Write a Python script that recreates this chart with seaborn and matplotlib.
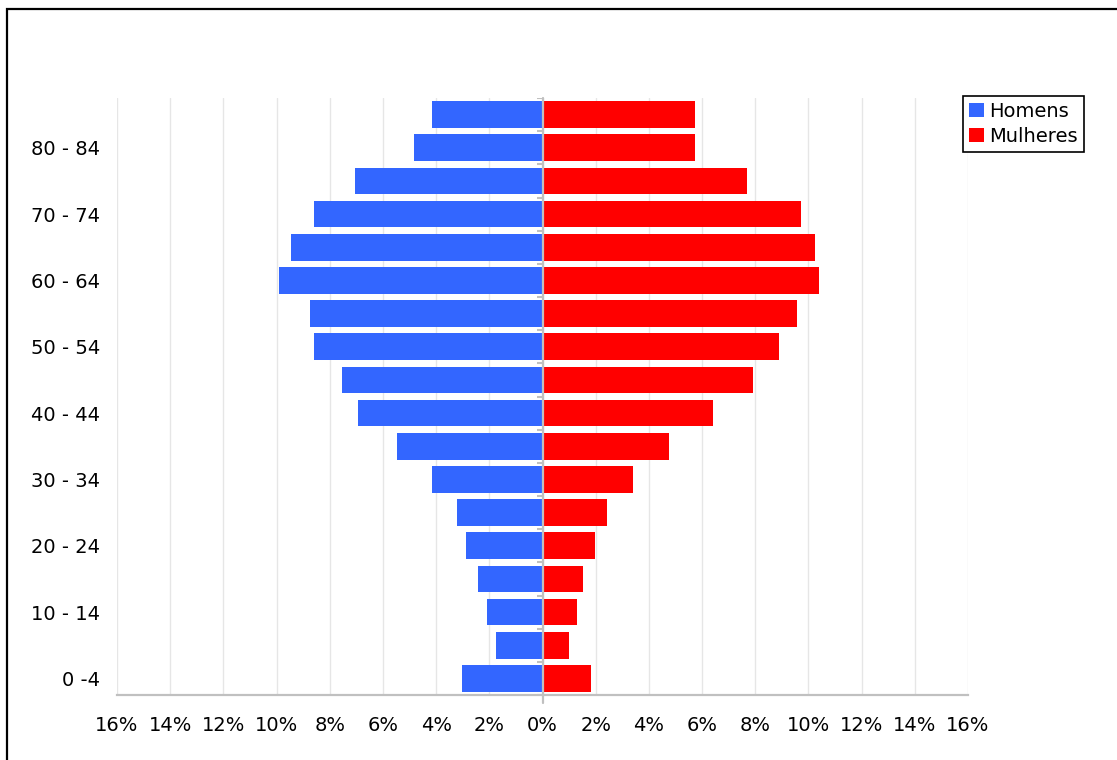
import numpy as np
import pandas as pd
import matplotlib
matplotlib.use("Agg")
import matplotlib.pyplot as plt
from matplotlib.patches import Rectangle
from matplotlib.ticker import FuncFormatter
import seaborn as sns

# -------------------- data (top of pyramid first) --------------------
faixas = ["85+", "80 - 84", "75 - 79", "70 - 74", "65 - 69", "60 - 64", "55 - 59",
          "50 - 54", "45 - 49", "40 - 44", "35 - 39", "30 - 34", "25 - 29",
          "20 - 24", "15 - 19", "10 - 14", "5 - 9", "0 -4"]
homens = [4.17, 4.85, 7.06, 8.61, 9.47, 9.92, 8.76, 8.61, 7.55, 6.92,
          5.48, 4.17, 3.20, 2.89, 2.41, 2.07, 1.76, 3.01]
mulheres = [5.73, 5.73, 7.68, 9.71, 10.24, 10.39, 9.56, 8.88, 7.91, 6.40,
            4.75, 3.39, 2.42, 1.97, 1.52, 1.29, 0.99, 1.82]
x_ticks = list(range(-16, 17, 2))

df = pd.DataFrame({
    "faixa": faixas * 2,
    "pct": [-v for v in homens] + mulheres,
    "sexo": ["Homens"] * len(faixas) + ["Mulheres"] * len(faixas),
})

# -------------------- plot --------------------
sns.set_style("white")
plt.rcParams["font.family"] = ["DejaVu Sans"]
plt.rcParams["text.color"] = "black"
plt.rcParams["xtick.labelcolor"] = "black"
plt.rcParams["ytick.labelcolor"] = "black"

fig = plt.figure(figsize=(11.17, 7.6), dpi=100)
ax = fig.add_axes([117 / 1117, 65 / 760, 851 / 1117, 597 / 760])

sns.barplot(data=df, y="faixa", x="pct", hue="sexo", order=faixas, dodge=False,
            palette={"Homens": "#3366ff", "Mulheres": "#ff0000"},
            width=0.8, saturation=1, linewidth=0, ax=ax)

ax.set_xlim(-16, 16)
ax.set_ylim(len(faixas) - 0.5, -0.5)
ax.set_xticks(x_ticks)
ax.xaxis.set_major_formatter(FuncFormatter(lambda v, p: f"{abs(int(round(v)))}%"))
ax.set_yticks(range(len(faixas)))
ax.set_yticklabels([f if i % 2 == 1 else "" for i, f in enumerate(faixas)])
ax.set_xlabel("")
ax.set_ylabel("")

ax.grid(axis="x", color="#e6e6e6", lw=1)
ax.set_axisbelow(True)
for s in ["top", "right", "left"]:
    ax.spines[s].set_visible(False)
ax.spines["bottom"].set_color("#c0c0c0")
ax.spines["bottom"].set_linewidth(1.6)
ax.tick_params(axis="x", length=6, width=1.5, color="#c0c0c0", labelsize=14,
               labelcolor="black", pad=9)
ax.tick_params(axis="y", length=0, labelsize=14, labelcolor="black", pad=12)

# center axis with small boundary ticks
ax.axvline(0, ymin=-0.013, ymax=1, color="#c0c0c0", lw=1.6, clip_on=False, zorder=3)
ax.hlines(np.arange(-0.5, len(faixas)), -0.22, 0, color="#c0c0c0", lw=1.5, zorder=3)

handles, labels = ax.get_legend_handles_labels()
leg = ax.legend(handles, labels, loc="upper right", bbox_to_anchor=(1084 / 1117, 664 / 760),
                bbox_transform=fig.transFigure, fontsize=14, frameon=True, fancybox=False,
                edgecolor="black", framealpha=1, handlelength=0.75, handleheight=0.75,
                handletextpad=0.3, borderpad=0.3, labelspacing=0.3, borderaxespad=0)
leg.get_frame().set_linewidth(1.2)
for t in leg.get_texts():
    t.set_color("black")

# outer chart frame (runs past the right and bottom edges)
fig.patches.append(Rectangle((7 / 1117, -0.5), 1.5, 1.5 - 9 / 760, transform=fig.transFigure,
                             fill=False, edgecolor="black", lw=1.6))

fig.savefig("out.png", dpi=100)
